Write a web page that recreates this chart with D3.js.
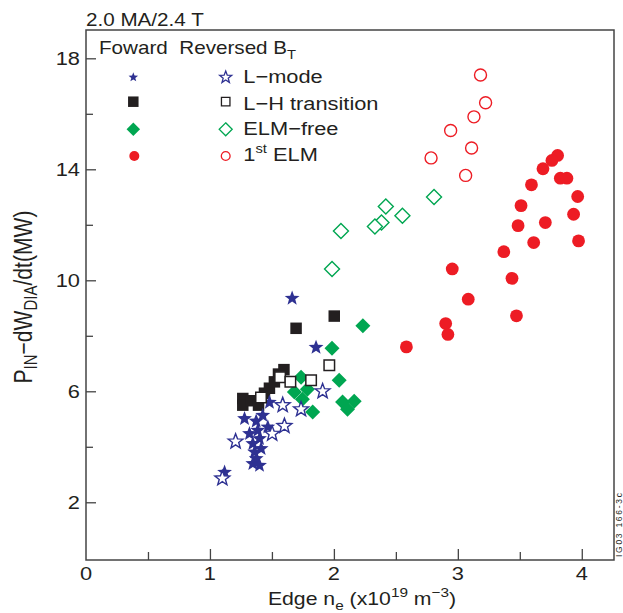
<!DOCTYPE html>
<html>
<head>
<meta charset="utf-8">
<script src="https://cdn.jsdelivr.net/npm/d3@7"></script>
<style>
  html, body { margin: 0; padding: 0; background: #fff; }
  svg { display: block; }
  text { font-family: "Liberation Sans", Arial, Helvetica, sans-serif; fill: #231f20; }
</style>
</head>
<body>
<svg id="chart" width="623" height="613"></svg>
<script>
// ---------------- DATA ----------------
const xTicks = [0, 1, 2, 3, 4];
const xMinorTicks = [0.5, 1.5, 2.5, 3.5];
const yTicks = [2, 6, 10, 14, 18];
const yMinorTicks = [4, 8, 12, 16];

// Forward B_T (filled)
const fwdLmodeX = [1.663, 1.856, 1.480, 1.279, 1.373, 1.426, 1.467, 1.319, 1.386, 1.400, 1.346, 1.413, 1.360, 1.373, 1.346, 1.400, 1.118];
const fwdLmodeY = [9.35, 7.58, 5.60, 5.01, 4.92, 5.13, 4.71, 4.47, 4.59, 4.29, 4.11, 3.93, 3.81, 3.57, 3.39, 3.33, 3.08];

const fwdLHX = [1.265, 1.265, 1.333, 1.392, 1.440, 1.480, 1.520, 1.553, 1.597, 2.003, 1.695];
const fwdLHY = [5.74, 5.50, 5.66, 5.50, 5.93, 6.11, 6.34, 6.62, 6.78, 8.71, 8.27];

const fwdELMfreeX = [1.735, 1.681, 1.786, 1.746, 1.829, 2.043, 2.070, 2.164, 2.110, 1.985, 2.234];
const fwdELMfreeY = [6.51, 5.97, 6.07, 5.71, 5.25, 6.40, 5.61, 5.64, 5.35, 7.55, 8.36];

const fwdELMX = [3.805, 3.759, 3.687, 3.594, 3.827, 3.880, 3.967, 3.510, 3.934, 3.486, 3.706, 3.612, 3.974, 3.371, 2.955, 3.437, 3.084, 3.473, 2.902, 2.920, 2.585];
const fwdELMY = [14.50, 14.32, 14.02, 13.44, 13.68, 13.68, 13.02, 12.69, 12.38, 11.97, 12.08, 11.36, 11.42, 11.03, 10.41, 10.07, 9.32, 8.72, 8.44, 8.05, 7.60];

// Reversed B_T (open)
const revLmodeX = [1.100, 1.207, 1.502, 1.601, 1.587, 1.735, 1.909];
const revLmodeY = [2.86, 4.19, 4.47, 4.75, 5.50, 5.35, 6.00];

const revLHX = [1.412, 1.566, 1.649, 1.816, 1.963];
const revLHY = [5.78, 6.51, 6.34, 6.40, 6.94];

const revELMfreeX = [2.808, 2.419, 2.553, 2.384, 2.331, 2.057, 1.985];
const revELMfreeY = [13.00, 12.66, 12.33, 12.08, 11.94, 11.78, 10.41];

const revELMX = [3.183, 3.224, 3.130, 2.942, 3.111, 2.784, 3.063];
const revELMY = [17.40, 16.40, 15.89, 15.40, 14.77, 14.41, 13.78];

const legendLabels = ["L\u2212mode", "L\u2212H transition", "ELM\u2212free", "ELM"];

// ---------------- LAYOUT ----------------
const svg = d3.select("#chart");
const pLeft = 86, pRight = 614, pTop = 30, pBottom = 560;
const SX = 1.18; // horizontal stretch of lettering in the reference

const x = d3.scaleLinear().domain([0, 4.26]).range([pLeft, pRight]);
const y = d3.scaleLinear().domain([-0.08, 19.02]).range([pBottom, pTop]);

const BLUE = "#2e3192", BLACK = "#231f20", GREEN = "#00a651", RED = "#ed1c24";

function txt(px, py, size, anchor) {
  return svg.append("text")
    .attr("transform", `translate(${px},${py}) scale(${SX},1)`)
    .attr("font-size", size).attr("text-anchor", anchor || "start");
}

// frame
svg.append("rect")
  .attr("x", pLeft).attr("y", pTop)
  .attr("width", pRight - pLeft).attr("height", pBottom - pTop)
  .attr("fill", "none").attr("stroke", "#444").attr("stroke-width", 1.5);

// x axis ticks (inside)
const xAxis = d3.axisBottom(x).tickValues(xTicks.filter(d => d > 0)).tickSize(-11).tickFormat("");
const gx = svg.append("g").attr("transform", `translate(0,${pBottom})`).call(xAxis);
gx.select(".domain").remove();
gx.selectAll("line").attr("stroke", "#444").attr("stroke-width", 1.3);
const xAxisMinor = d3.axisBottom(x).tickValues(xMinorTicks).tickSize(-8).tickFormat("");
const gxm = svg.append("g").attr("transform", `translate(0,${pBottom})`).call(xAxisMinor);
gxm.select(".domain").remove();
gxm.selectAll("line").attr("stroke", "#444").attr("stroke-width", 1.3);

xTicks.forEach(d => txt(x(d), pBottom + 20, 18.5, "middle").text(d));

// y axis ticks (inside)
const yAxis = d3.axisLeft(y).tickValues(yTicks).tickSize(-10).tickFormat("");
const gy = svg.append("g").attr("transform", `translate(${pLeft},0)`).call(yAxis);
gy.select(".domain").remove();
gy.selectAll("line").attr("stroke", "#444").attr("stroke-width", 1.3);
const yAxisMinor = d3.axisLeft(y).tickValues(yMinorTicks).tickSize(-7).tickFormat("");
const gym = svg.append("g").attr("transform", `translate(${pLeft},0)`).call(yAxisMinor);
gym.select(".domain").remove();
gym.selectAll("line").attr("stroke", "#444").attr("stroke-width", 1.3);

yTicks.forEach(d => txt(pLeft - 6, y(d) + 6.5, 18.5, "end").text(d));

// title
txt(86, 26, 17.5).text("2.0 MA/2.4 T");

// axis labels
const xl = txt(362, 605, 18, "middle");
xl.append("tspan").text("Edge n");
xl.append("tspan").attr("font-size", 13).attr("dy", 5).text("e");
xl.append("tspan").attr("dy", -5).text(" (x10");
xl.append("tspan").attr("font-size", 13).attr("dy", -8).text("19");
xl.append("tspan").attr("dy", 8).text(" m");
xl.append("tspan").attr("font-size", 13).attr("dy", -8).text("\u22123");
xl.append("tspan").attr("dy", 8).text(")");

// y label: fitted to the reference's length along the axis (about 173 px)
const yl = svg.append("text").attr("transform", `translate(32,297) scale(${SX},1) rotate(-90)`)
  .attr("text-anchor", "middle");
function buildYLabel(b) {
  yl.selectAll("*").remove();
  yl.attr("font-size", b);
  const s = b * 0.71;
  yl.append("tspan").text("P");
  yl.append("tspan").attr("font-size", s).attr("dy", b * 0.2).text("IN");
  yl.append("tspan").attr("dy", -b * 0.2).text("\u2212dW");
  yl.append("tspan").attr("font-size", s).attr("dy", b * 0.2).text("DIA");
  yl.append("tspan").attr("dy", -b * 0.2).text("/dt(MW)");
}
buildYLabel(20);
const yLen = yl.node().getComputedTextLength();
if (yLen > 0) buildYLabel(Math.max(16, Math.min(22, 20 * 173 / yLen)));

// side code
svg.append("text").attr("transform", "translate(621.5,557) rotate(-90)")
  .attr("font-size", 8.5).attr("fill", "#444")
  .attr("textLength", 64).attr("lengthAdjust", "spacing").text("IG03 166-3c");

// ---------------- MARKERS ----------------
function starPath(R) {
  const r = R * 0.42;
  const pts = [];
  for (let i = 0; i < 10; i++) {
    const a = -Math.PI / 2 + i * Math.PI / 5;
    const rr = i % 2 === 0 ? R : r;
    pts.push([rr * Math.cos(a), rr * Math.sin(a)]);
  }
  return "M" + pts.map(p => p[0].toFixed(2) + "," + p[1].toFixed(2)).join("L") + "Z";
}
function squarePath(s) { const h = s / 2; return `M${-h},${-h}H${h}V${h}H${-h}Z`; }
function diamondPath(d) { const h = d / 2; return `M0,${-h}L${h},0L0,${h}L${-h},0Z`; }
function circlePath(r) { return `M${r},0A${r},${r} 0 1,1 ${-r},0A${r},${r} 0 1,1 ${r},0Z`; }

function plot(xs, ys, path, fill, stroke, sw) {
  svg.append("g").selectAll("path").data(xs.map((d, i) => [d, ys[i]])).enter().append("path")
    .attr("d", path)
    .attr("transform", d => `translate(${x(d[0])},${y(d[1])})`)
    .attr("fill", fill).attr("stroke", stroke).attr("stroke-width", sw);
}

plot(fwdELMX, fwdELMY, circlePath(6.4), RED, "none", 0);
plot(revELMX, revELMY, circlePath(6), "#fff", RED, 1.4);
plot(fwdELMfreeX, fwdELMfreeY, diamondPath(15), GREEN, "none", 0);
plot(revELMfreeX, revELMfreeY, diamondPath(15), "#fff", GREEN, 1.4);
plot(fwdLHX, fwdLHY, squarePath(11.5), BLACK, "none", 0);
plot(fwdLmodeX, fwdLmodeY, starPath(7.8), BLUE, "none", 0);
plot(revLHX, revLHY, squarePath(10.5), "#fff", BLACK, 1.5);
plot(revLmodeX, revLmodeY, starPath(7.8), "#fff", BLUE, 1.4);

// ---------------- LEGEND ----------------
const lg = svg.append("g");
const hdr = txt(99, 53.5, 17.5);
hdr.append("tspan").text("Foward\u00a0\u00a0Reversed B");
hdr.append("tspan").attr("font-size", 12.5).attr("dy", 5).text("T");

const rowsY = [77.3, 101.7, 129.3, 156];
const fx = 133.3, ox = 225.7;
lg.append("path").attr("d", starPath(5)).attr("transform", `translate(${fx},${rowsY[0]})`).attr("fill", BLUE);
lg.append("path").attr("d", starPath(6.3)).attr("transform", `translate(${ox},${rowsY[0]})`).attr("fill", "#fff").attr("stroke", BLUE).attr("stroke-width", 1.3);
lg.append("path").attr("d", squarePath(10.5)).attr("transform", `translate(${fx},${rowsY[1]})`).attr("fill", BLACK);
lg.append("path").attr("d", squarePath(8.5)).attr("transform", `translate(${ox},${rowsY[1]})`).attr("fill", "#fff").attr("stroke", BLACK).attr("stroke-width", 1.3);
lg.append("path").attr("d", diamondPath(13.5)).attr("transform", `translate(${fx},${rowsY[2]})`).attr("fill", GREEN);
lg.append("path").attr("d", diamondPath(13)).attr("transform", `translate(${ox},${rowsY[2]})`).attr("fill", "#fff").attr("stroke", GREEN).attr("stroke-width", 1.3);
lg.append("path").attr("d", circlePath(5)).attr("transform", `translate(${fx + 1},${rowsY[3]})`).attr("fill", RED);
lg.append("path").attr("d", circlePath(4.4)).attr("transform", `translate(${ox},${rowsY[3]})`).attr("fill", "#fff").attr("stroke", RED).attr("stroke-width", 1.3);

const baseY = [83.3, 110, 135, 161];
legendLabels.forEach((t, i) => {
  const tx = txt(243.3, baseY[i], 18.5);
  if (i === 3) {
    tx.append("tspan").text("1");
    tx.append("tspan").attr("font-size", 12.5).attr("dy", -8).text("st");
    tx.append("tspan").attr("dy", 8).text(" " + t);
  } else {
    tx.text(t);
  }
});
</script>
</body>
</html>
